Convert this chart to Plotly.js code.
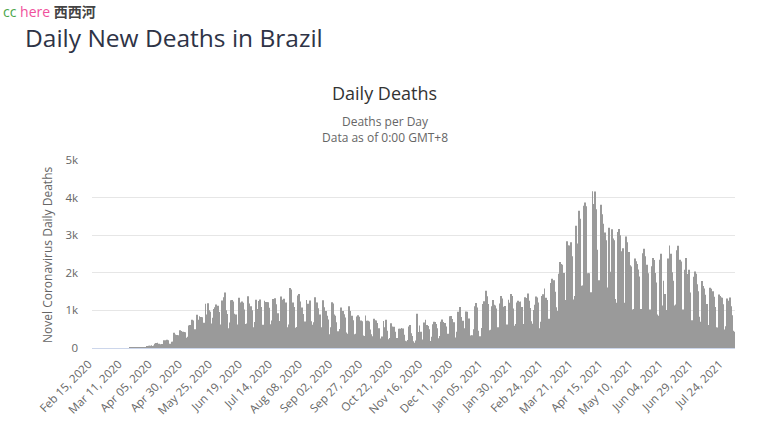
<!DOCTYPE html>
<html>
<head>
<meta charset="utf-8">
<script src="https://cdn.plot.ly/plotly-3.0.1.min.js"></script>
<style>
  html, body { margin: 0; padding: 0; background: #ffffff; }
  #chart { width: 769px; height: 433px; }
</style>
</head>
<body>
<div id="chart"></div>
<script>
// ---- Data (daily deaths, Brazil) ----
var startDate = "2020-02-15";

var deaths2020Feb = [0,0,0,0,0,0,0,0,0,0,0,0,0,0,0];
var deaths2020Mar = [0,0,0,0,0,0,0,0,0,0,0,0,0,0,0,0,1,3,2,5,7,7,9,12,11,20,15,22,22,23,42];
var deaths2020Apr = [40,58,60,73,54,67,114,133,141,115,68,99,105,204,204,188,217,206,115,113,166,165,407,357,346,189,338,474,449,435];
var deaths2020May = [428,421,275,296,600,615,610,751,730,496,396,881,749,844,824,816,485,674,1179,888,1188,1001,965,653,807,1039,1086,1156,1124,956,480];
var deaths2020Jun = [623,1262,1349,1473,1005,904,525,679,1272,1274,1239,909,892,612,627,1338,1209,1238,1206,1022,641,654,1374,1185,990,1109,1006,552,692,1280];
var deaths2020Jul = [1038,1252,1290,1091,602,620,1254,1223,1220,1214,1071,631,733,1300,1233,1322,1163,921,716,632,1367,1284,1311,1156,1211,555,627,1595,1554,1129,1212];
var deaths2020Aug = [1088,541,561,1394,1437,1237,1079,905,572,703,1274,1175,1060,1262,709,620,684,1352,1204,1212,1054,892,494,551,1271,1085,984,855,758,366,553];
var deaths2020Sep = [1215,1184,888,857,682,447,310,504,1075,983,899,814,415,381,1113,987,829,858,739,363,377,836,869,829,729,713,335,317,863,728];
var deaths2020Oct = [723,706,491,366,311,775,734,729,663,523,254,201,309,720,551,754,461,230,263,661,571,497,566,432,264,231,510,513,530,516,355];
var deaths2020Nov = [190,179,211,574,610,395,318,180,139,201,908,427,597,430,224,216,676,754,615,586,496,186,302,630,698,691,638,527,262,317];
var deaths2020Dec = [697,755,694,665,569,305,376,842,848,770,672,686,279,433,964,936,1092,823,727,404,524,968,963,787,316,330,337,500,1111,1194,1074];
var deaths2021Jan = [462,314,293,534,1171,1242,1524,1379,1171,469,485,1110,1274,1151,1131,1050,551,452,1183,1382,1316,1096,1119,592,627,1283,1206,1439,1386,1050,595];
var deaths2021Feb = [639,1209,1254,1232,1239,1091,530,636,1350,1330,1452,1256,1062,713,646,1010,1149,1367,1340,1212,527,698,1386,1428,1582,1337,1275,721];
var deaths2021Mar = [778,1726,1840,1699,1800,1498,1086,987,1972,2286,2233,2216,1997,1127,1275,2841,2736,2724,2815,2438,1290,1383,3251,2009,2777,3650,3438,1656,1660,3780,3869];
var deaths2021Apr = [3769,1987,1987,1240,1480,4170,3829,4160,3693,2616,1803,1738,3808,3560,3305,3070,2865,1347,1607,3200,2027,3157,2914,2865,1305,1202,3086,3163,3001,2572];
var deaths2021May = [2656,1202,1024,2966,2811,2550,2202,2165,1024,1038,2383,2310,2233,2087,1899,1036,1000,2517,2641,2438,2215,1986,860,1026,2173,2392,2343,1996,1740,889,860];
var deaths2021Jun = [2346,2507,1129,1787,1437,873,1010,2378,2723,2504,2013,1791,1129,1154,2600,2720,2311,2344,2301,1025,739,2081,2392,1966,2081,1476,721,739,1893,2032];
var deaths2021Jul = [1973,1694,1509,830,695,1780,1648,1580,1414,1171,595,614,1605,1574,1509,1362,1088,555,542,1424,1382,1343,1335,1164,490,578,1318,1257,1344,1111,870];
var deaths2021Aug = [457,430];

var tickLabels = ["Feb 15, 2020","Mar 11, 2020","Apr 05, 2020","Apr 30, 2020","May 25, 2020","Jun 19, 2020","Jul 14, 2020","Aug 08, 2020","Sep 02, 2020","Sep 27, 2020","Oct 22, 2020","Nov 16, 2020","Dec 11, 2020","Jan 05, 2021","Jan 30, 2021","Feb 24, 2021","Mar 21, 2021","Apr 15, 2021","May 10, 2021","Jun 04, 2021","Jun 29, 2021","Jul 24, 2021"];
var yTickValues = [0,1000,2000,3000,4000,5000];
var yTickLabels = ["0","1k","2k","3k","4k","5k"];

// ---- Build categories ----
var deaths = [].concat(deaths2020Feb, deaths2020Mar, deaths2020Apr, deaths2020May, deaths2020Jun,
  deaths2020Jul, deaths2020Aug, deaths2020Sep, deaths2020Oct, deaths2020Nov, deaths2020Dec,
  deaths2021Jan, deaths2021Feb, deaths2021Mar, deaths2021Apr, deaths2021May, deaths2021Jun,
  deaths2021Jul, deaths2021Aug);

var monthNames = ["Jan","Feb","Mar","Apr","May","Jun","Jul","Aug","Sep","Oct","Nov","Dec"];
var dates = [];
var d0 = new Date(startDate + "T00:00:00Z");
for (var i = 0; i < deaths.length; i++) {
  var d = new Date(d0.getTime() + i * 86400000);
  var dd = d.getUTCDate();
  dates.push(monthNames[d.getUTCMonth()] + " " + (dd < 10 ? "0" + dd : dd) + ", " + d.getUTCFullYear());
}

var FONT = '"Open Sans", "Noto Sans", sans-serif';

var trace = {
  type: 'bar',
  x: dates,
  y: deaths,
  marker: { color: '#9a9a9a', line: { width: 0 } },
  hoverinfo: 'x+y'
};

// plot area: left 92, right 735, top 160, bottom 348
function px(x) { return (x - 92) / 643; }
function py(y) { return (348 - y) / 188; }

var layout = {
  width: 769,
  height: 433,
  margin: { l: 92, r: 34, t: 160, b: 85, pad: 0 },
  paper_bgcolor: '#ffffff',
  plot_bgcolor: '#ffffff',
  showlegend: false,
  bargap: 0.3,
  font: { family: FONT, color: '#666666', size: 11 },
  xaxis: {
    type: 'category',
    tickmode: 'array',
    tickvals: tickLabels,
    ticktext: tickLabels,
    tickangle: -45,
    tickfont: { family: FONT, size: 11.5, color: '#666666' },
    ticklabelstandoff: 4,
    ticklabelshift: -4,
    showgrid: false,
    showline: true,
    linecolor: '#ccd6eb',
    linewidth: 1,
    ticks: '',
    fixedrange: true
  },
  yaxis: {
    range: [0, 5000],
    tickmode: 'array',
    tickvals: yTickValues,
    ticktext: yTickLabels,
    tickfont: { family: FONT, size: 11.5, color: '#666666' },
    showgrid: true,
    gridcolor: '#e6e6e6',
    gridwidth: 1,
    zeroline: false,
    showline: false,
    ticks: '',
    ticklabelstandoff: 13,
    fixedrange: true
  },
  annotations: [
    { xref: 'paper', yref: 'paper', x: px(2), y: py(0), xanchor: 'left', yanchor: 'top', showarrow: false, borderpad: 0,
      text: '<span style="color:#4aa64a">cc</span> <span style="color:#f0509c">here</span> <b><span style="color:#444444;font-family:\'Noto Sans CJK SC\'">西西河</span></b>',
      font: { family: FONT, size: 14, color: '#444444' } },
    { xref: 'paper', yref: 'paper', x: px(24), y: py(20), xanchor: 'left', yanchor: 'top', showarrow: false, borderpad: 0,
      text: 'Daily New Deaths in Brazil', font: { family: FONT, size: 24.5, color: '#2e3346' } },
    { xref: 'paper', yref: 'paper', x: px(384.5), y: py(93), xanchor: 'center', yanchor: 'middle', showarrow: false,
      text: 'Daily Deaths', font: { family: FONT, size: 18, color: '#333333' } },
    { xref: 'paper', yref: 'paper', x: px(384.5), y: py(129.5), xanchor: 'center', yanchor: 'middle', showarrow: false,
      text: 'Deaths per Day<br>Data as of 0:00 GMT+8', font: { family: FONT, size: 12, color: '#666666' } },
    { xref: 'paper', yref: 'paper', x: px(47), y: py(255), xanchor: 'center', yanchor: 'middle', showarrow: false,
      textangle: -90, text: 'Novel Coronavirus Daily Deaths', font: { family: FONT, size: 12, color: '#666666' } }
  ]
};

Plotly.newPlot('chart', [trace], layout, { displayModeBar: false, staticPlot: false });
</script>
</body>
</html>
